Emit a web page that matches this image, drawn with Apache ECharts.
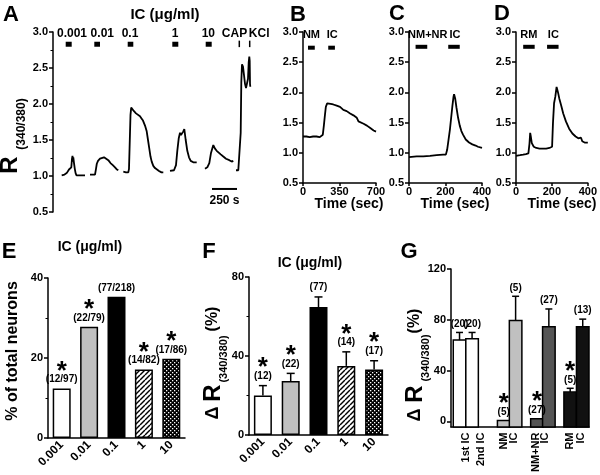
<!DOCTYPE html>
<html><head><meta charset="utf-8">
<script src="https://cdn.jsdelivr.net/npm/echarts@6/dist/echarts.min.js"></script>
<style>html,body{margin:0;padding:0;background:#fff}#c{width:600px;height:475px}</style>
</head><body><div id="c"></div>
<script>
// ===== Panel A: Ca2+ ratio traces (time s, R340/380) =====
const aTrace1 = [[87,1.01],[100,1.02],[115,1.02],[125,1.03],[137,1.04],[148,1.06],[160,1.09],[172,1.10],[183,1.12],[190,1.24],[195,1.28],[199,1.20],[203,1.26],[210,1.18],[218,1.10],[226,1.04],[235,1.01],[250,1.00],[270,1.01],[295,1.01],[320,1.01]];
const aTrace2 = [[370,1.02],[395,1.02],[420,1.02],[430,1.10],[438,1.17],[450,1.21],[470,1.24],[490,1.25],[510,1.26],[530,1.25],[553,1.22],[575,1.18],[598,1.15],[620,1.12],[640,1.09],[653,1.08]];
const aTrace3 = [[703,1.06],[730,1.05],[753,1.05],[760,1.10],[768,1.50],[775,1.85],[782,1.95],[795,1.93],[810,1.90],[830,1.87],[850,1.86],[870,1.83],[885,1.80],[900,1.77],[920,1.70],[937,1.62],[950,1.50],[963,1.38],[975,1.27],[987,1.20],[1003,1.14],[1020,1.11],[1040,1.09],[1060,1.07],[1085,1.05],[1103,1.05]];
const aTrace4 = [[1170,1.07],[1190,1.07],[1210,1.08],[1230,1.15],[1243,1.35],[1257,1.52],[1270,1.60],[1280,1.57],[1293,1.59],[1303,1.62],[1313,1.65],[1327,1.50],[1343,1.35],[1360,1.26],[1377,1.21],[1403,1.19],[1420,1.19],[1437,1.19]];
const aTrace5 = [[1520,1.10],[1543,1.12],[1563,1.18],[1580,1.32],[1603,1.43],[1620,1.38],[1637,1.35],[1653,1.33],[1677,1.30],[1703,1.27],[1730,1.24],[1763,1.22],[1787,1.20],[1803,1.21]];
const aTrace6 = [[1830,1.08],[1853,1.08],[1870,1.10],[1877,1.60],[1883,2.30],[1890,2.55],[1900,2.52],[1910,2.40],[1920,2.28],[1930,2.22],[1943,2.22],[1950,2.35],[1957,2.58],[1963,2.66],[1967,2.60],[1970,2.28],[1973,2.24]];
const aStimBars = [[127,187],[413,470],[747,803],[1193,1253],[1527,1587]];
const aStimTicks = [1863,1967];
const aStimNames = ['0.001','0.01','0.1','1','10','CAP','KCl'];
const aStimNameTimes = [190,493,770,1220,1553,1815,2062];
const aScaleBar = [1590,1840];
const aScaleLabel = '250 s';

// ===== Panels B, C, D traces =====
const bTrace = [[0,1.27],[32,1.27],[65,1.26],[97,1.27],[129,1.27],[161,1.26],[177,1.27],[190,1.30],[200,1.45],[210,1.62],[219,1.76],[232,1.82],[245,1.83],[265,1.81],[290,1.80],[323,1.78],[355,1.76],[387,1.71],[419,1.69],[452,1.65],[484,1.62],[516,1.58],[532,1.52],[540,1.54],[548,1.52],[581,1.48],[613,1.45],[645,1.41],[677,1.37],[700,1.35]];
const bStimBars = [[48,113],[242,306]];
const bStimNames = ['NM','IC'];
const bStimNameTimes = [81,281];

const cTrace = [[0,0.93],[42,0.94],[78,0.94],[115,0.95],[151,0.96],[187,0.97],[202,0.97],[209,1.05],[216,1.20],[224,1.38],[231,1.58],[238,1.78],[244,1.93],[247,1.97],[253,1.90],[260,1.75],[269,1.58],[278,1.45],[287,1.36],[296,1.30],[311,1.22],[329,1.17],[347,1.14],[365,1.12],[378,1.10],[387,1.09],[400,1.08]];
const cStimBars = [[36,100],[215,278]];
const cStimNames = ['NM+NR','IC'];
const cStimNameTimes = [103,252];

const dTrace = [[0,0.95],[22,0.96],[40,0.97],[55,0.98],[62,1.00],[69,0.99],[75,1.15],[79,1.33],[82,1.28],[88,1.16],[99,1.10],[113,1.08],[131,1.07],[150,1.07],[168,1.07],[186,1.08],[201,1.10],[206,1.50],[212,1.82],[219,1.93],[226,2.09],[234,2.00],[241,1.90],[252,1.78],[263,1.65],[278,1.52],[296,1.40],[314,1.32],[332,1.27],[347,1.24],[356,1.22],[362,1.25],[369,1.19],[382,1.17],[400,1.17]];
const dStimBars = [[40,104],[173,237]];
const dStimNames = ['RM','IC'];
const dStimNameTimes = [71,208];

// ===== Panel E =====
const eCats = ['0.001','0.01','0.1','1','10'];
const eValues = [12.4,27.8,35.3,17.1,19.8];
const eCounts = ['(12/97)','(22/79)','(77/218)','(14/82)','(17/86)'];
const eStar = [true,true,false,true,true];

// ===== Panel F =====
const fCats = ['0.001','0.01','0.1','1','10'];
const fMeans = [20.0,27.3,64.8,35.0,33.2];
const fErr = [5.0,3.9,5.1,7.1,4.4];
const fN = ['(12)','(22)','(77)','(14)','(17)'];
const fStar = [true,true,false,true,true];

// ===== Panel G =====
const gCats = ['1st IC','2nd IC','NM','IC','NM+NR','IC','RM','IC'];
const gMeans = [64,65,0.6,79.5,2.0,74.5,23,74.5];
const gErr = [6,5,0,19,0,14,3,6];
const gN = ['(20)','(20)','(5)','(5)','(27)','(27)','(5)','(13)'];
const gStar = [false,false,true,false,true,false,true,false];
const gX = [0.68,1.68,4.2,5.15,6.85,7.8,9.5,10.5];
const gLabX = [1.2,2.4,4.2,5.0,6.75,7.5,9.5,10.35];

// ===================================================
const FONT = '"Liberation Sans", Arial, Helvetica, sans-serif';
const chart = echarts.init(document.getElementById('c'), null, {renderer:'canvas'});

function makePattern(kind){
  const cv = document.createElement('canvas');
  if(kind==='hatch'){
    cv.width=5; cv.height=5; const x=cv.getContext('2d');
    x.fillStyle='#fff'; x.fillRect(0,0,5,5);
    x.strokeStyle='#000'; x.lineWidth=1.4;
    [[-5,5,0,0],[0,5,5,0],[5,5,10,0]].forEach(([a,b,c,d])=>{x.beginPath();x.moveTo(a,b);x.lineTo(c,d);x.stroke();});
  } else {
    cv.width=4; cv.height=4; const x=cv.getContext('2d');
    x.fillStyle='#000'; x.fillRect(0,0,4,4);
    x.fillStyle='#fff'; x.fillRect(0,0,1.3,1.3); x.fillRect(2,2,1.3,1.3);
  }
  return {image:cv, repeat:'repeat'};
}
const HATCH = makePattern('hatch'), DOTS = makePattern('dots');
const eFill = ['#ffffff','#c0c0c0','#000000',HATCH,DOTS];
const gFill = ['#ffffff','#ffffff','#c0c0c0','#c0c0c0','#555555','#555555','#111111','#111111'];

const lbl = (size)=>({color:'#000', fontFamily:FONT, fontWeight:'bold', fontSize:size, opacity:1});
const axLine = {show:true, onZero:false, lineStyle:{color:'#000', width:1.5}};
function yAx(gi,min,max,interval,minor,fmt,extra){
  return Object.assign({type:'value', gridIndex:gi, min, max, interval,
    axisLine:axLine, axisTick:{show:true, length:4, lineStyle:{color:'#000', width:1.5}},
    minorTick:{show:minor, splitNumber:2, length:2.5, lineStyle:{color:'#000', width:1}},
    splitLine:{show:false}, minorSplitLine:{show:false},
    axisLabel:Object.assign(lbl(11),{margin:5, formatter:fmt})}, extra||{});
}
const f1 = v=>v.toFixed(1), f0 = v=>String(v);
const HID = {color:'transparent', opacity:1};

function traceSeries(gi,data){
  return {type:'line', xAxisIndex:gi, yAxisIndex:gi, data, symbol:'none', silent:true,
    lineStyle:{color:'#000', width:1.8}};
}
function stimSeries(gi,bars,yLevel,h){
  return {type:'custom', xAxisIndex:gi, yAxisIndex:gi, silent:true, data:bars,
    renderItem:(p,api)=>{const s=api.coord([api.value(0),yLevel]); const e=api.coord([api.value(1),yLevel]);
      return {type:'rect', shape:{x:s[0], y:s[1]-h/2, width:e[0]-s[0], height:h}, style:{fill:'#000'}};}};
}
function labelSeries(gi,xs,names,yLevel,size){
  return {type:'scatter', xAxisIndex:gi, yAxisIndex:gi, symbolSize:1, silent:true, clip:false,
    itemStyle:HID,
    data:xs.map((t,i)=>({value:[t,yLevel], name:names[i]})),
    label:Object.assign({show:true, position:'inside', formatter:p=>p.name, textBorderWidth:0}, lbl(size))};
}
function errSeries(gi,xs,means,errs,capW){
  return {type:'custom', xAxisIndex:gi, yAxisIndex:gi, silent:true, z:5,
    data:means.map((m,i)=>[xs[i],m,errs[i]]),
    renderItem:(p,api)=>{const x=api.value(0), m=api.value(1), e=api.value(2); if(!e) return null;
      const a=api.coord([x,m]), b=api.coord([x,m+e]);
      return {type:'group', children:[
        {type:'line', shape:{x1:a[0],y1:a[1],x2:b[0],y2:b[1]}, style:{stroke:'#000', lineWidth:1.5}},
        {type:'line', shape:{x1:b[0]-capW/2,y1:b[1],x2:b[0]+capW/2,y2:b[1]}, style:{stroke:'#000', lineWidth:1.5}}]};}};
}
const richNS = {s:{fontFamily:FONT, fontWeight:'bold', fontSize:26, lineHeight:14, color:'#000', padding:[10,0,0,0]},
                n:{fontFamily:FONT, fontWeight:'bold', fontSize:10, lineHeight:12, color:'#000'}};
function annotSeries(gi,xs,tops,texts,stars,dist){
  return {type:'scatter', xAxisIndex:gi, yAxisIndex:gi, symbolSize:1, silent:true, clip:false, z:6,
    itemStyle:HID,
    data:tops.map((v,i)=>[xs[i],v]),
    label:{show:true, position:'top', distance:dist, align:'center', color:'#000', opacity:1,
      formatter:p=>(stars[p.dataIndex]?'{s|*}\n':'')+'{n|'+texts[p.dataIndex]+'}', rich:richNS}};
}

const T = (x,y,text,size,rot,extra)=>({type:'text', x, y, rotation:rot?Math.PI/2:0, silent:true,
  style:Object.assign({text, font:`bold ${size}px ${FONT}`, fill:'#000', align:'center', verticalAlign:'middle'}, extra||{})});

const idx5 = [0,1,2,3,4];
const gYMin = -4.5;
const xTick = {show:true,length:3,lineStyle:{color:'#000',width:1.5}};

const option = {
  animation:false, backgroundColor:'#fff',
  textStyle:{fontFamily:FONT},
  grid:[
    {left:53, top:32, width:202, height:180},
    {left:303, top:32, width:73, height:151},
    {left:409, top:32, width:73, height:151},
    {left:516, top:32, width:73, height:151},
    {left:48, top:278, width:137, height:160},
    {left:249, top:277, width:139, height:158},
    {left:451, top:269, width:138, height:158}
  ],
  xAxis:[
    {type:'value', gridIndex:0, min:0, max:2020, show:false},
    {type:'value', gridIndex:1, min:0, max:700, interval:350, axisLine:axLine, splitLine:{show:false},
      axisTick:xTick, axisLabel:Object.assign(lbl(11),{margin:3})},
    {type:'value', gridIndex:2, min:0, max:400, interval:200, axisLine:axLine, splitLine:{show:false},
      axisTick:xTick, axisLabel:Object.assign(lbl(11),{margin:3})},
    {type:'value', gridIndex:3, min:0, max:400, interval:200, axisLine:axLine, splitLine:{show:false},
      axisTick:xTick, axisLabel:Object.assign(lbl(11),{margin:3})},
    {type:'category', gridIndex:4, data:eCats, axisLine:axLine, axisTick:{show:false},
      axisLabel:Object.assign(lbl(12),{rotate:45, interval:0, margin:5})},
    {type:'category', gridIndex:5, data:fCats, axisLine:axLine, axisTick:{show:false},
      axisLabel:Object.assign(lbl(12),{rotate:45, interval:0, margin:5})},
    {type:'value', gridIndex:6, min:0, max:11, axisLine:axLine, axisTick:{show:false}, axisLabel:{show:false}, splitLine:{show:false}}
  ],
  yAxis:[
    yAx(0,0.5,3.0,0.5,true,f1),
    yAx(1,0.5,3.0,0.5,false,f1),
    yAx(2,0.5,3.0,0.5,false,f1),
    yAx(3,0.5,3.0,0.5,false,f1),
    yAx(4,0,40,20,true,f0),
    yAx(5,0,80,40,true,f0),
    {type:'value', gridIndex:6, min:gYMin, max:120, axisLine:axLine, splitLine:{show:false},
      axisTick:{show:true, length:4, lineStyle:{color:'#000', width:1.5}, customValues:[0,40,80,120]},
      axisLabel:Object.assign(lbl(11),{margin:5, customValues:[0,40,80,120]})}
  ],
  series:[
    traceSeries(0,aTrace1), traceSeries(0,aTrace2), traceSeries(0,aTrace3),
    traceSeries(0,aTrace4), traceSeries(0,aTrace5), traceSeries(0,aTrace6),
    stimSeries(0,aStimBars,2.83,5),
    {type:'custom', xAxisIndex:0, yAxisIndex:0, silent:true, data:aStimTicks.map(t=>[t]),
      renderItem:(p,api)=>{const a=api.coord([api.value(0),2.79]), b=api.coord([api.value(0),2.88]);
        return {type:'line', shape:{x1:a[0],y1:a[1],x2:b[0],y2:b[1]}, style:{stroke:'#000', lineWidth:1.5}};}},
    labelSeries(0,aStimNameTimes,aStimNames,2.98,12),
    {type:'line', xAxisIndex:0, yAxisIndex:0, symbol:'none', silent:true,
      data:aScaleBar.map(t=>[t,0.82]), lineStyle:{color:'#000', width:2}},
    labelSeries(0,[(aScaleBar[0]+aScaleBar[1])/2],[aScaleLabel],0.66,12),

    traceSeries(1,bTrace), stimSeries(1,bStimBars,2.74,4), labelSeries(1,bStimNameTimes,bStimNames,2.95,11),
    traceSeries(2,cTrace), stimSeries(2,cStimBars,2.755,4), labelSeries(2,cStimNameTimes,cStimNames,2.95,11),
    traceSeries(3,dTrace), stimSeries(3,dStimBars,2.755,4), labelSeries(3,dStimNameTimes,dStimNames,2.95,11),

    {type:'bar', xAxisIndex:4, yAxisIndex:4, barWidth:18, silent:true,
      itemStyle:{borderColor:'#000', borderWidth:1.5},
      data:eValues.map((v,i)=>({value:v, itemStyle:{color:eFill[i]}})),
      label:{show:true, position:'top', distance:3, color:'#000',
        formatter:p=>(eStar[p.dataIndex]?'{s|*}\n':'')+'{n|'+eCounts[p.dataIndex]+'}', rich:richNS}},

    {type:'bar', xAxisIndex:5, yAxisIndex:5, barWidth:18, silent:true,
      itemStyle:{borderColor:'#000', borderWidth:1.5},
      data:fMeans.map((v,i)=>({value:v, itemStyle:{color:eFill[i]}}))},
    errSeries(5,idx5,fMeans,fErr,8),
    annotSeries(5,idx5,fMeans.map((m,i)=>m+fErr[i]),fN,fStar,3),

    {type:'custom', xAxisIndex:6, yAxisIndex:6, silent:true, data:gMeans.map((m,i)=>[gX[i],m]),
      renderItem:(p,api)=>{const x=api.value(0), v=api.value(1); const w=api.size([1,0])[0];
        const top=api.coord([x,v]), bot=api.coord([x,gYMin]);
        return {type:'rect', shape:{x:top[0]-w/2, y:top[1], width:w, height:bot[1]-top[1]},
          style:{fill:gFill[p.dataIndex], stroke:'#000', lineWidth:1.5}};}},
    errSeries(6,gX,gMeans,gErr,7),
    annotSeries(6,gX,gMeans.map((m,i)=>m+gErr[i]),gN,gStar,2),
    {type:'scatter', xAxisIndex:6, yAxisIndex:6, symbolSize:1, silent:true, clip:false,
      itemStyle:HID, data:gLabX.map(x=>[x,gYMin]),
      label:Object.assign({show:true, position:'bottom', distance:5, rotate:90, align:'right', verticalAlign:'middle',
        formatter:p=>gCats[p.dataIndex]}, lbl(11))}
  ],
  graphic:[
    T(11,15,'A',22), T(298,15,'B',22), T(397,14,'C',22), T(502,14,'D',22),
    T(9,252,'E',22), T(209,252,'F',22), T(409,252,'G',22),
    T(165,15,'IC (\u03bcg/ml)',15), T(90,247,'IC (\u03bcg/ml)',14), T(310,263,'IC (\u03bcg/ml)',14),
    T(349,204,'Time (sec)',14), T(455,204,'Time (sec)',14), T(562,204,'Time (sec)',14),
    T(10,165,'R',24,true), T(22,124,'(340/380)',12,true),
    T(13,351,'% of total neurons',16,true),
    T(213,413,'\u0394',18,true), T(213,393,'R',24,true), T(224,359,'(340/380)',11,true), T(213,319,'(%)',16,true),
    T(415,415,'\u0394',18,true), T(415,394,'R',24,true), T(426,358,'(340/380)',11,true), T(415,321,'(%)',16,true)
  ]
};
chart.setOption(option);
</script></body></html>
